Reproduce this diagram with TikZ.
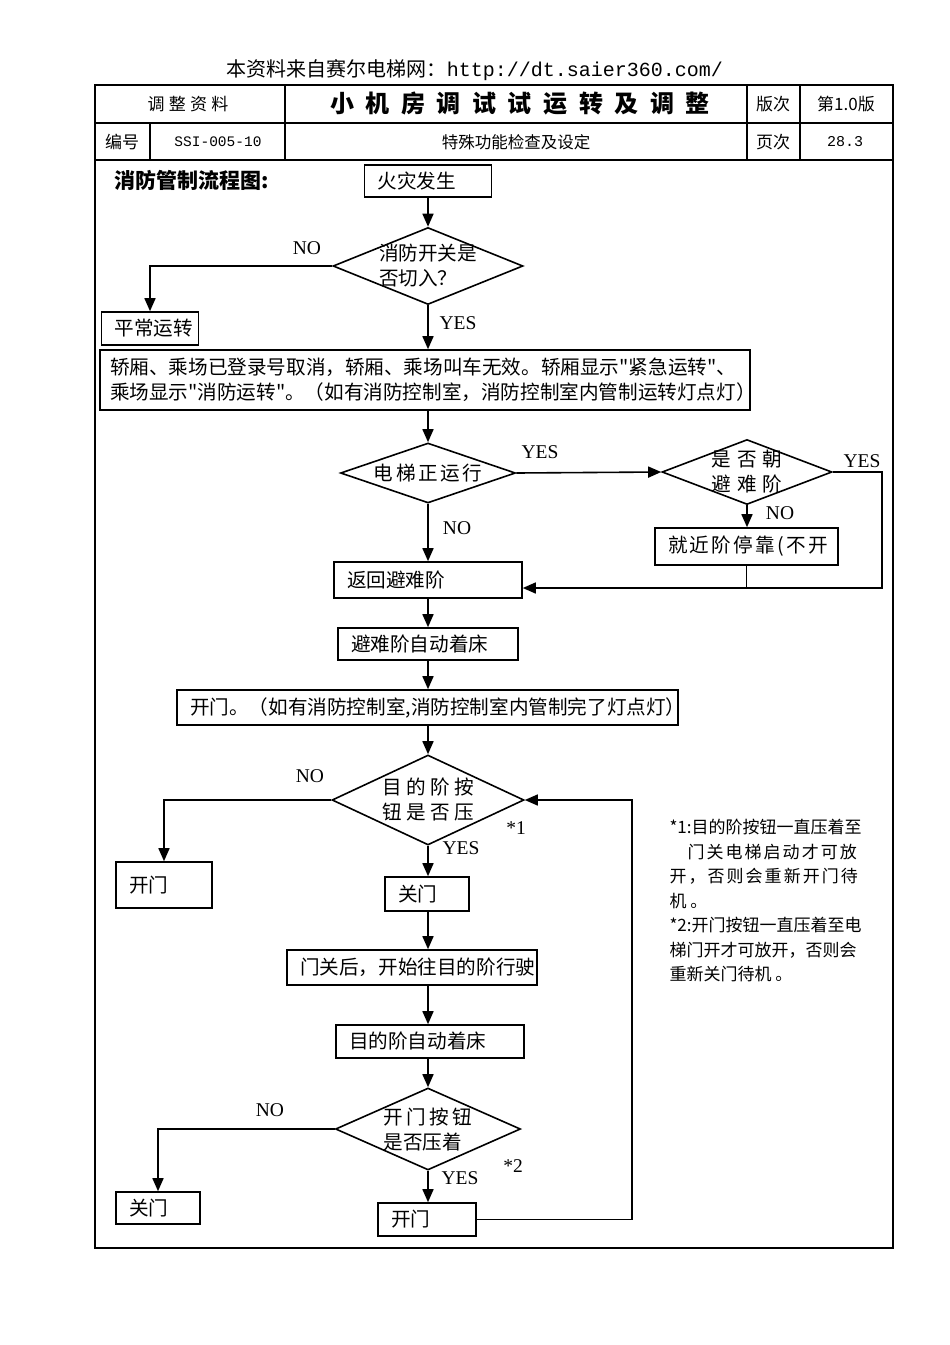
\documentclass[tikz,border=0pt]{standalone}
\usepackage{fontspec}
\usepackage{tikz}
\usetikzlibrary{shapes.geometric,arrows.meta}
\setmainfont{Liberation Serif}
\setmonofont{Liberation Mono}
\newfontfamily\cjk{Noto Sans CJK SC}
\def\zh{\cjk\fontsize{19.6}{25}\selectfont}
\def\lsp#1{\addfontfeature{LetterSpace=#1}}
\tikzset{
  box/.style={draw, line width=1.6pt, font=\zh, align=left, inner xsep=13pt, inner ysep=0pt},
  dia/.style={draw, diamond, line width=1.6pt, inner sep=0pt},
  arr/.style={line width=1.6pt, -{Triangle[length=13pt,width=11pt]}},
  lnk/.style={line width=1.6pt},
  yn/.style={font=\fontsize{19.5}{21}\selectfont},
  frm/.style={line width=1.6pt},
  cell/.style={font=\cjk\fontsize{17}{20}\selectfont}
}

\begin{document}
\begin{tikzpicture}[x=1pt,y=-1pt]
\fill[white] (0,0) rectangle (950,1345);
\useasboundingbox (0,0) rectangle (950,1345);

\node[font=\fontsize{20}{22}\selectfont] (src) at (475,70) {{\cjk 本资料来自赛尔电梯网：}\ttfamily http://dt.saier360.com/};

\draw[frm] (95,85) rectangle (893,1248);
\draw[line width=2.5pt] (95,85) -- (893,85);
\draw[frm] (95,123) -- (893,123) (95,160) -- (893,160) (285,85) -- (285,160)
  (747,85) -- (747,160) (800,85) -- (800,160) (150,123) -- (150,160);
\node[cell] (kind) at (188,104) {\lsp{25}调整资料};
\node[font=\cjk\bfseries\fontsize{24}{26}\selectfont] (title) at (520,104) {\lsp{48}小机房调试试运转及调整};
\node[cell] (ver) at (773,104) {版次};
\node[cell] (vern) at (846,104) {第1.0版};
\node[cell] (code) at (122,142) {编号};
\node[font=\ttfamily\fontsize{14.5}{17}\selectfont] (coden) at (218,142) {SSI-005-10};
\node[font=\cjk\fontsize{16.5}{19}\selectfont] (sub) at (516,142) {特殊功能检查及设定};
\node[cell] (page) at (773,142) {页次};
\node[font=\ttfamily\fontsize{15}{17}\selectfont] (pagen) at (845,142) {28.3};
\node[anchor=west, font=\cjk\bfseries\fontsize{21}{24}\selectfont] (head) at (111,180) {消防管制流程图:};

\node[box, text width=101pt, minimum height=32pt] (fire) at (428,181) {火灾发生};
\node[dia, minimum width=190pt, minimum height=77pt,
  label={[font=\zh, align=left]center:{消防开关是\\否切入？}}] (qsw) at (428,266) {};
\node[box, text width=71pt, minimum height=33pt] (normal) at (150,328.5) {平常运转};
\node[box, inner xsep=10pt, text width=630pt, minimum height=60pt] (big) at (425,380)
  {轿厢、乘场已登录号取消，轿厢、乘场叫车无效。轿厢显示"紧急运转"、\\乘场显示"消防运转"。（如有消防控制室，消防控制室内管制运转灯点灯）};
\node[dia, minimum width=175pt, minimum height=60pt,
  label={[font=\zh]center:{\lsp{13}电梯正运行}}] (qrun) at (428,473) {};
\node[dia, minimum width=170pt, minimum height=65pt,
  label={[font=\zh, align=center]center:{\lsp{30}是否朝\\\lsp{30}避难阶}}] (qdir) at (747,472) {};
\node[box, text width=157pt, minimum height=37pt] (near) at (746.5,546.5) {\lsp{12}就近阶停靠(不开};
\node[box, text width=162pt, minimum height=36pt] (back) at (428,580) {返回避难阶};
\node[box, text width=154pt, minimum height=32pt] (land1) at (428,644) {避难阶自动着床};
\node[box, text width=475pt, minimum height=35pt] (open1) at (427.5,707.5) {开门。（如有消防控制室,消防控制室内管制完了灯点灯）};
\node[dia, minimum width=192pt, minimum height=90pt,
  label={[font=\zh, align=left]center:{\lsp{22}目的阶按\\\lsp{22}钮是否压}}] (qdest) at (428,800) {};
\node[box, text width=70pt, minimum height=46pt] (openA) at (164,885) {开门};
\node[box, text width=58pt, minimum height=34pt] (close1) at (427,894) {关门};
\node[box, text width=224pt, minimum height=35pt] (drive) at (412,967.5) {门关后，开始往目的阶行驶};
\node[box, text width=162pt, minimum height=33pt] (land2) at (430,1041.5) {目的阶自动着床};
\node[dia, minimum width=185pt, minimum height=82pt,
  label={[font=\zh, align=left]center:{\lsp{18}开门按钮\\是否压着}}] (qopen) at (428,1129) {};
\node[box, text width=58pt, minimum height=32pt] (closeB) at (158,1208) {关门};
\node[box, text width=72pt, minimum height=33pt] (open2) at (427,1219.5) {开门};

\coordinate (col) at (428,0);
\coordinate (r1) at (882,588);
\coordinate (lp) at (632,1219.5);

\foreach \a/\b in {fire/qsw, qsw/big, big/qrun, qrun/back, back/land1, land1/open1, open1/qdest,
    qdest/close1, close1/drive, drive/land2, land2/qopen, qopen/open2}
  \draw[arr] (\a.south -| col) -- (\b.north -| col);

\draw[arr] (qsw.west) -| (normal.north);
\draw[arr] (qrun.east) -- (qdir.west);
\draw[arr] (qdir.south) -- (qdir.south |- near.north);
\draw[arr] (qdir.east) -| (r1) -- (back.east |- r1);
\draw[lnk] (near.south) -- (near.south |- r1);
\draw[arr] (qdest.west) -| (openA.north);
\draw[arr] (qopen.west) -| (closeB.north);
\draw[arr] (open2.east) -- (lp) |- (qdest.east);

\node[yn] (no1) at (307,248) {NO};
\node[yn] (yes1) at (458,323) {YES};
\node[yn] (yes2) at (540,452) {YES};
\node[yn] (no2) at (457,528) {NO};
\node[yn] (yes3) at (862,461) {YES};
\node[yn] (no3) at (780,513) {NO};
\node[yn] (no4) at (310,776) {NO};
\node[yn] (yes4) at (461,848) {YES};
\node[yn] (st1) at (516,828) {*1};
\node[yn] (no5) at (270,1110) {NO};
\node[yn] (yes5) at (460,1178) {YES};
\node[yn] (st2) at (513,1166) {*2};

\node[anchor=north west, align=left, font=\cjk\fontsize{17}{24.5}\selectfont] (note) at (666,816)
  {*1:目的阶按钮一直压着至\\\hspace*{18pt}{\lsp{12}门关电梯启动才可放}\\{\lsp{12}开，否则会重新开门待}\\机 。\\
   *2:开门按钮一直压着至电\\梯门开才可放开，否则会\\重新关门待机 。};
\end{tikzpicture}
\end{document}
